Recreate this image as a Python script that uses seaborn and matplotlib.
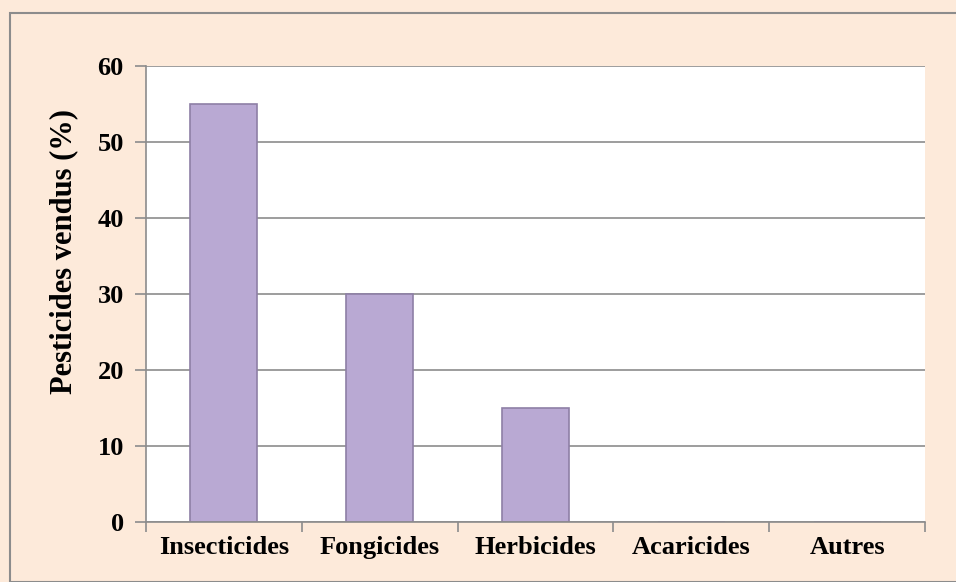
import seaborn as sns
import pandas as pd
from matplotlib import pyplot as plt
from matplotlib.patches import Rectangle

categories = ["Insecticides", "Fongicides", "Herbicides", "Acaricides", "Autres"]
values = [55, 30, 15, 0, 0]

BG = "#FDEADA"
BAR = "#B9A9D3"
GRID = "#8C8C8C"


def main():
    sns.set_theme(style="white")
    plt.rcParams["font.family"] = ["Liberation Serif", "DejaVu Serif"]
    df = pd.DataFrame({"cat": categories, "val": values})

    fig = plt.figure(figsize=(9.56, 5.82), dpi=100, facecolor=BG)
    ax = fig.add_axes([146 / 956, 1 - 522 / 582, (925 - 146) / 956, (522 - 66) / 582])
    ax.set_facecolor("white")

    sns.barplot(data=df, x="cat", y="val", color=BAR, width=0.43,
                edgecolor="#8E7FA6", linewidth=1.2, saturation=1, ax=ax)

    ax.set_ylim(0, 60)
    ax.set_xlim(-0.5, 4.5)
    ax.set_yticks(range(0, 61, 10))
    ax.yaxis.grid(True, color=GRID, linewidth=1.2)
    ax.set_axisbelow(True)
    for s in ["top", "right"]:
        ax.spines[s].set_visible(False)
    for s in ["left", "bottom"]:
        ax.spines[s].set_color(GRID)
        ax.spines[s].set_linewidth(1.2)

    # category boundary ticks on x axis
    ax.set_xticks([i - 0.5 for i in range(6)], minor=True)
    ax.tick_params(axis="x", which="minor", length=7, color=GRID, width=1.2, direction="out", bottom=True)
    ax.tick_params(axis="x", which="major", length=0, pad=10)
    ax.tick_params(axis="y", length=8, color=GRID, width=1.2, direction="out", left=True, pad=8)

    for lab in ax.get_xticklabels() + ax.get_yticklabels():
        lab.set_fontweight("bold")
        lab.set_fontsize(19)
        lab.set_color("black")

    ax.set_xlabel("")
    ax.set_ylabel("Pesticides vendus (%)", fontsize=22, fontweight="bold", color="black")
    ax.yaxis.set_label_coords(-(146 - 78) / 779, 0.594)

    fig.patches.append(Rectangle((10 / 956, 0), 1, 1 - 13 / 582, transform=fig.transFigure,
                                 fill=False, edgecolor="#8C8C8C", linewidth=1.5, zorder=-1))

    plt.savefig("out.png", dpi=100, facecolor=BG)


if __name__ == "__main__":
    main()
